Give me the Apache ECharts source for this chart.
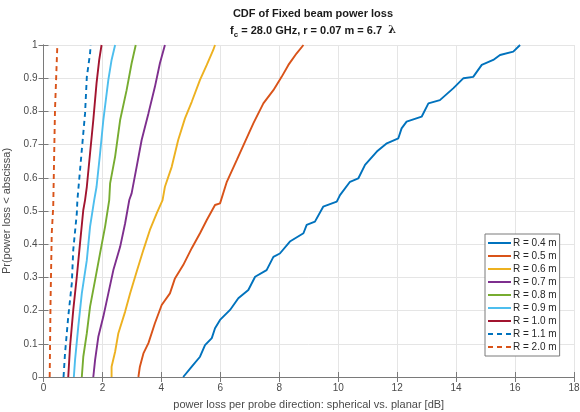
<!DOCTYPE html>
<html>
<head>
<meta charset="utf-8">
<script src="https://cdn.jsdelivr.net/npm/echarts@6/dist/echarts.min.js"></script>
<style>
  html, body { margin: 0; padding: 0; background: #fff; }
  #chart { width: 580px; height: 412px; }
</style>
</head>
<body>
<div id="chart"></div>
<script>
// 图例名称
var names = ['R = 0.4 m', 'R = 0.5 m', 'R = 0.6 m', 'R = 0.7 m', 'R = 0.8 m', 'R = 0.9 m', 'R = 1.0 m', 'R = 1.1 m', 'R = 2.0 m']

// CDF 数据 [x(dB), Pr]
var r04 = [[4.74,0],[5.03,0.031],[5.31,0.061],[5.48,0.096],[5.71,0.117],[5.82,0.147],[5.99,0.172],[6.33,0.202],[6.61,0.237],[6.95,0.262],[7.18,0.302],[7.57,0.322],[7.80,0.362],[8.02,0.372],[8.36,0.408],[8.82,0.433],[8.93,0.458],[9.21,0.468],[9.49,0.513],[9.95,0.528],[10.06,0.548],[10.40,0.588],[10.68,0.598],[10.91,0.639],[11.31,0.679],[11.65,0.704],[12.04,0.719],[12.15,0.749],[12.32,0.769],[12.83,0.784],[13.06,0.824],[13.45,0.834],[13.91,0.870],[14.25,0.900],[14.58,0.904],[14.87,0.940],[15.26,0.955],[15.49,0.970],[15.94,0.980],[16.17,1]]
var r05 = [[3.22,0],[3.27,0.031],[3.39,0.071],[3.56,0.102],[3.78,0.162],[4.01,0.217],[4.29,0.252],[4.46,0.297],[4.74,0.337],[5.03,0.388],[5.31,0.433],[5.54,0.473],[5.82,0.518],[5.99,0.523],[6.22,0.588],[6.56,0.654],[6.84,0.709],[7.12,0.764],[7.46,0.824],[7.80,0.864],[8.08,0.904],[8.31,0.940],[8.59,0.975],[8.82,1]]
var r06 = [[2.31,0],[2.31,0.031],[2.43,0.076],[2.54,0.132],[2.77,0.197],[2.94,0.252],[3.16,0.317],[3.39,0.383],[3.61,0.443],[3.84,0.493],[4.04,0.533],[4.12,0.573],[4.35,0.633],[4.57,0.714],[4.80,0.779],[5.03,0.829],[5.31,0.895],[5.54,0.940],[5.76,0.985],[5.82,1]]
var r07 = [[1.69,0],[1.75,0.051],[1.86,0.121],[2.03,0.182],[2.20,0.252],[2.37,0.322],[2.60,0.392],[2.77,0.463],[2.91,0.533],[2.99,0.553],[3.16,0.633],[3.33,0.714],[3.56,0.794],[3.78,0.874],[3.95,0.945],[4.12,1]]
var r08 = [[1.30,0],[1.35,0.061],[1.47,0.132],[1.58,0.212],[1.75,0.292],[1.92,0.373],[2.09,0.453],[2.23,0.533],[2.26,0.583],[2.43,0.664],[2.60,0.774],[2.82,0.864],[2.99,0.945],[3.13,1]]
var r09 = [[1.03,0],[1.07,0.051],[1.18,0.152],[1.30,0.252],[1.47,0.352],[1.58,0.453],[1.72,0.533],[1.80,0.573],[1.92,0.674],[2.03,0.774],[2.20,0.895],[2.31,0.955],[2.43,1]]
var r10 = [[0.84,0],[0.90,0.091],[1.01,0.202],[1.13,0.302],[1.24,0.403],[1.35,0.503],[1.41,0.533],[1.47,0.573],[1.58,0.674],[1.69,0.774],[1.80,0.885],[1.89,0.955],[1.97,1]]
var r11 = [[0.68,0],[0.73,0.071],[0.84,0.182],[0.96,0.282],[1.01,0.383],[1.13,0.493],[1.15,0.533],[1.18,0.563],[1.30,0.684],[1.41,0.794],[1.47,0.904],[1.58,0.975],[1.60,1]]
var r20 = [[0.21,0],[0.24,0.232],[0.28,0.433],[0.33,0.513],[0.39,0.804],[0.47,1]]

var allData = [r04, r05, r06, r07, r08, r09, r10, r11, r20]
var colors = ['#0072BD', '#D95319', '#EDB120', '#7E2F8E', '#77AC30', '#4DBEEE', '#A2142F', '#0072BD', '#D95319']
var dashed = [false, false, false, false, false, false, false, true, true]

var font = 'Liberation Sans, Arial, Helvetica, sans-serif'
var axisColor = '#7a7a7a'
var textColor = '#4a4a4a'

var chart = echarts.init(document.getElementById('chart'), null, { renderer: 'canvas' })

var series = allData.map((d, i) => ({
  name: names[i],
  type: 'line',
  data: d,
  showSymbol: false,
  symbol: 'none',
  animation: false,
  lineStyle: {
    color: colors[i],
    width: 1.9,
    type: dashed[i] ? [5, 4] : 'solid'
  },
  itemStyle: { color: colors[i] }
}))

// 底/左 主坐标轴
var mainX = {
  type: 'value', min: 0, max: 18, interval: 2, position: 'bottom',
  name: 'power loss per probe direction: spherical vs. planar [dB]',
  nameLocation: 'middle', nameGap: 22,
  nameTextStyle: { color: textColor, fontSize: 11, fontFamily: font },
  axisLine: { show: true, lineStyle: { color: axisColor, width: 1 } },
  axisTick: { show: true, inside: true, length: 5, lineStyle: { color: axisColor } },
  axisLabel: { color: textColor, fontSize: 10, fontFamily: font, margin: 6 },
  splitLine: { show: true, lineStyle: { color: '#e5e5e5', width: 1 } }
}
var mainY = {
  type: 'value', min: 0, max: 1, interval: 0.1, position: 'left',
  name: 'Pr(power loss < abscissa)',
  nameLocation: 'middle', nameGap: 26, nameRotate: 90,
  nameTextStyle: { color: textColor, fontSize: 11, fontFamily: font },
  axisLine: { show: true, lineStyle: { color: axisColor, width: 1 } },
  axisTick: { show: true, inside: true, length: 5, lineStyle: { color: axisColor } },
  axisLabel: { color: textColor, fontSize: 10, fontFamily: font, margin: 6 },
  splitLine: { show: true, lineStyle: { color: '#e5e5e5', width: 1 } }
}
// 顶/右 只画边框和刻度
var topX = {
  type: 'value', min: 0, max: 18, interval: 2, position: 'top',
  axisLine: { show: true, lineStyle: { color: axisColor, width: 1 } },
  axisTick: { show: true, inside: true, length: 5, lineStyle: { color: axisColor } },
  axisLabel: { show: false }, splitLine: { show: false }
}
var rightY = {
  type: 'value', min: 0, max: 1, interval: 0.1, position: 'right',
  axisLine: { show: true, lineStyle: { color: axisColor, width: 1 } },
  axisTick: { show: true, inside: true, length: 5, lineStyle: { color: axisColor } },
  axisLabel: { show: false }, splitLine: { show: false }
}

var option = {
  backgroundColor: '#fff',
  animation: false,
  title: {
    text: '{b|CDF of Fixed beam power loss}\n{b|f}{sub|c}{b| = 28.0 GHz, r = 0.07 m = 6.7  }{l|λ}',
    left: 308, top: 0, textAlign: 'center',
    textStyle: {
      rich: {
        b: { fontSize: 11, fontWeight: 'bold', color: '#1a1a1a', fontFamily: font, lineHeight: 17 },
        sub: { fontSize: 8, fontWeight: 'bold', color: '#1a1a1a', fontFamily: font, lineHeight: 17, verticalAlign: 'bottom' },
        l: { fontSize: 11, color: '#1a1a1a', fontFamily: 'DejaVu Serif, serif', lineHeight: 17 }
      }
    }
  },
  grid: { left: 43.5, top: 45, right: 6, bottom: 35, containLabel: false, outerBoundsMode: 'none' },
  legend: {
    data: names,
    orient: 'vertical',
    left: 485, top: 234,
    itemWidth: 23, itemHeight: 10, itemGap: 3,
    padding: [4, 3, 4, 2],
    borderColor: '#7a7a7a', borderWidth: 1,
    backgroundColor: '#fff',
    itemStyle: { opacity: 0 },
    textStyle: { fontSize: 10, color: '#262626', fontFamily: font, padding: [0, 0, 0, -3] }
  },
  xAxis: [mainX, topX],
  yAxis: [mainY, rightY],
  series: series
}

chart.setOption(option)
</script>
</body>
</html>
